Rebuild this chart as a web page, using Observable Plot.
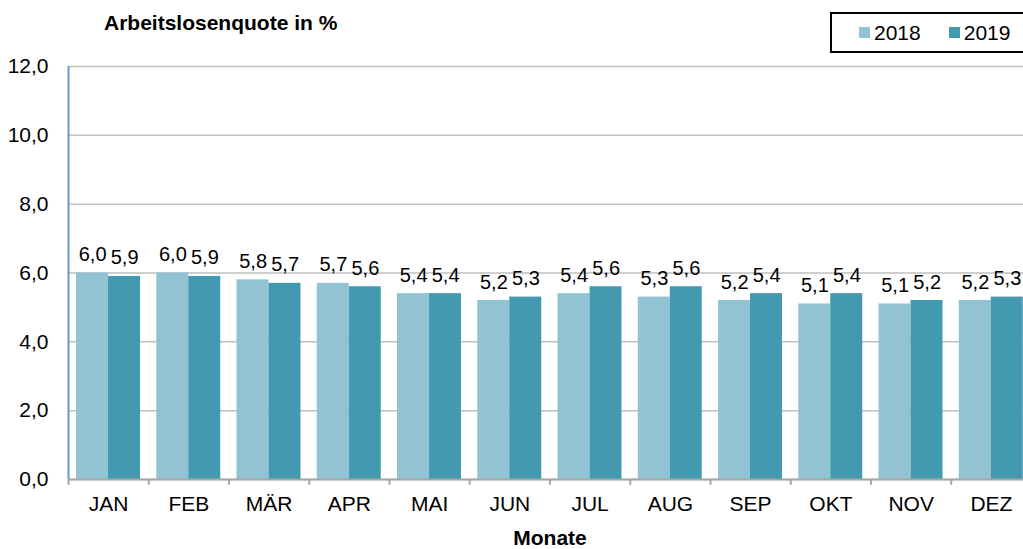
<!DOCTYPE html>
<html>
<head>
<meta charset="utf-8">
<script src="https://cdn.jsdelivr.net/npm/d3@7"></script>
<script src="https://cdn.jsdelivr.net/npm/@observablehq/plot@0.6"></script>
<style>
  html, body { margin: 0; padding: 0; background: #fff; }
  #wrap { position: relative; width: 1023px; height: 549px; overflow: hidden; font-family: "Liberation Sans", Arial, sans-serif; }
  #title { position: absolute; left: 104px; top: 12px; font-size: 21px; font-weight: bold; line-height: 1; color: #000; white-space: nowrap; }
  #legend { position: absolute; left: 830px; top: 12px; width: 220px; height: 41px; box-sizing: border-box; border: 2px solid #000; background: #fff; display: flex; align-items: center; padding-left: 27px; }
  #legend > div { margin: 0 !important; min-height: 0 !important; font-size: 21px !important; font-family: "Liberation Sans", Arial, sans-serif !important; color: #000 !important; }
  #legend span { margin-right: 28px !important; }
  #legend svg { margin-right: 4px !important; }
  #chart { position: absolute; left: 0; top: 0; }
</style>
</head>
<body>
<div id="wrap">
  <div id="chart"></div>
  <div id="title">Arbeitslosenquote in %</div>
  <div id="legend"></div>
</div>
<script>
const months = ["JAN","FEB","MÄR","APR","MAI","JUN","JUL","AUG","SEP","OKT","NOV","DEZ"];
const v2018 = [6.0,6.0,5.8,5.7,5.4,5.2,5.4,5.3,5.2,5.1,5.1,5.2];
const v2019 = [5.9,5.9,5.7,5.6,5.4,5.3,5.6,5.6,5.4,5.4,5.2,5.3];
const years = ["2018","2019"];
const colors = ["#92c3d3","#4399b0"];
const yTicks = [0,2,4,6,8,10,12];
const xLabel = "Monate";

const fmt = d => d.toFixed(1).replace(".", ",");
const d18 = months.map((m, i) => ({month: m, year: years[0], value: v2018[i]}));
const d19 = months.map((m, i) => ({month: m, year: years[1], value: v2019[i]}));

const W = 1023, H = 549, mL = 68, mR = -8;
const step = (W - mR - mL) / months.length;
const half = step / 2;

const chart = Plot.plot({
  width: W,
  height: H,
  marginTop: 66,
  marginBottom: 70,
  marginLeft: mL,
  marginRight: mR,
  style: {fontFamily: "'Liberation Sans', Arial, sans-serif", color: "#000", background: "transparent", overflow: "visible"},
  x: {domain: months, padding: 0, round: false, axis: null},
  y: {domain: [0, 12], axis: null},
  color: {domain: years, range: colors},
  marks: [
    Plot.gridY({ticks: yTicks, stroke: "#bfbfbf", strokeOpacity: 1, strokeWidth: 1.5}),
    Plot.barY(d18, {x: "month", y: "value", fill: "year", insetLeft: 8, insetRight: step - 40}),
    Plot.barY(d19, {x: "month", y: "value", fill: "year", insetLeft: 40, insetRight: step - 72}),
    Plot.text(d18, {x: "month", y: "value", text: d => fmt(d.value), dx: -16, dy: -12, lineAnchor: "bottom", fontSize: 20, fill: "#000"}),
    Plot.text(d19, {x: "month", y: "value", text: d => fmt(d.value), dx: 16, dy: -12, lineAnchor: "bottom", fontSize: 20, fill: "#000"}),
    Plot.ruleY([0], {stroke: "#a6a6a6", strokeWidth: 2}),
    Plot.ruleX(months, {x: d => d, dx: -half, y1: 0, y2: -0.17, stroke: "#a6a6a6", strokeWidth: 2}),
    Plot.ruleX([months[0]], {x: d => d, dx: -half, y1: 0, y2: 12, stroke: "#6a97d0", strokeWidth: 2}),
    Plot.axisY({ticks: yTicks, tickSize: 0, tickPadding: 20, tickFormat: fmt, fontSize: 21, label: null}),
    Plot.axisX({tickSize: 0, tickPadding: 17, fontSize: 21, label: null}),
    Plot.text([xLabel], {frameAnchor: "bottom", dy: 59, lineAnchor: "middle", fontWeight: "bold", fontSize: 21, fill: "#000"})
  ]
});
document.getElementById("chart").appendChild(chart);

const leg = Plot.legend({color: {domain: years, range: colors}, legend: "swatches", swatchSize: 11});
document.getElementById("legend").appendChild(leg);
</script>
</body>
</html>
